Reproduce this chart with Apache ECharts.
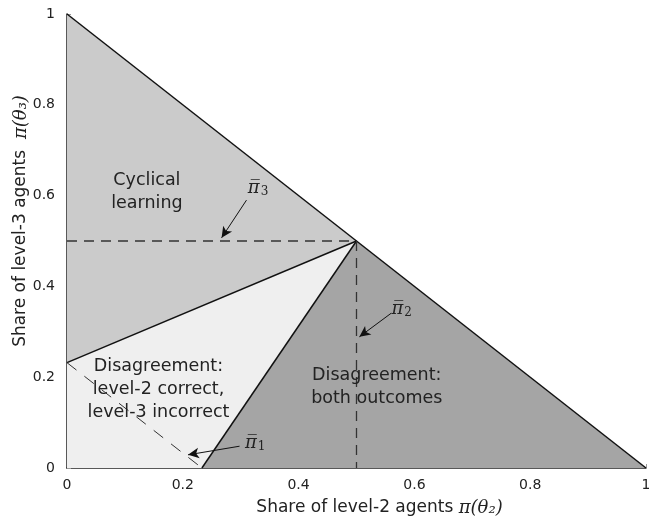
<!DOCTYPE html>
<html>
<head>
<meta charset="utf-8">
<script src="https://cdn.jsdelivr.net/npm/echarts@6/dist/echarts.min.js"></script>
<style>
  html, body { margin: 0; padding: 0; background: #fff; }
  #chart { width: 649px; height: 523px; }
</style>
</head>
<body>
<div id="chart"></div>
<script>
  // region corners (x = share level-2, y = share level-3)
  const cyclicalRegion = [[0, 1], [0.5, 0.5], [0, 0.232]]
  const level2Region = [[0, 0], [0, 0.232], [0.5, 0.5], [0.233, 0]]
  const bothRegion = [[0.233, 0], [0.5, 0.5], [1, 0]]

  // boundaries
  const simplexEdge = [[0, 1], [1, 0]]
  const upperBoundary = [[0, 0.232], [0.5, 0.5]]
  const lowerBoundary = [[0.233, 0], [0.5, 0.5]]

  // thresholds (dashed)
  const pi3Line = [[0, 0.5], [0.5, 0.5]]
  const pi2Line = [[0.5, 0.5], [0.5, 0]]
  const pi1Line = [[0, 0.232], [0.233, 0]]

  // arrows: [from, to]
  const arrowPi3 = [[0.31, 0.59], [0.267, 0.507]]
  const arrowPi2 = [[0.56, 0.341], [0.505, 0.289]]
  const arrowPi1 = [[0.298, 0.048], [0.209, 0.029]]

  const regionTexts = ['Cyclical\nlearning', 'Disagreement:\nlevel-2 correct,\nlevel-3 incorrect', 'Disagreement:\nboth outcomes']
  const regionTextAt = [[0.138, 0.607], [0.158, 0.172], [0.535, 0.178]]
  const symbolTexts = ['{p|π̅}{s|3}', '{p|π̅}{s|2}', '{p|π̅}{s|1}']
  const symbolTextAt = [[0.33, 0.617], [0.578, 0.35], [0.325, 0.055]]

  const tickValues = [0, 0.2, 0.4, 0.6, 0.8, 1]

  const chart = echarts.init(document.getElementById('chart'))

  function regionSeries (pts, color) {
    return {
      type: 'custom',
      z: 1,
      silent: true,
      data: pts,
      renderItem: (params, api) => {
        if (params.dataIndex !== 0) return
        return {
          type: 'polygon',
          shape: { points: pts.map(p => api.coord(p)) },
          style: { fill: color, stroke: null }
        }
      }
    }
  }

  function lineSeries (pts, type, width, color) {
    return {
      type: 'line',
      z: 3,
      data: pts,
      symbol: 'none',
      silent: true,
      lineStyle: { color, width, type }
    }
  }

  function arrowSeries (pts) {
    return {
      type: 'line',
      z: 4,
      data: [],
      markLine: {
        silent: true,
        symbol: ['none', 'arrow'],
        symbolSize: [8, 11],
        label: { show: false },
        lineStyle: { color: '#111', width: 1, type: 'solid' },
        data: [[{ coord: pts[0] }, { coord: pts[1] }]]
      }
    }
  }

  function textSeries (texts, coords, style) {
    return {
      type: 'custom',
      z: 5,
      silent: true,
      data: coords,
      renderItem: (params, api) => {
        const c = api.coord([api.value(0), api.value(1)])
        return {
          type: 'text',
          x: c[0], y: c[1],
          style: Object.assign({
            text: texts[params.dataIndex],
            align: 'center',
            verticalAlign: 'middle'
          }, style)
        }
      }
    }
  }

  const axisCommon = {
    type: 'value',
    min: 0, max: 1, interval: 0.2,
    axisLine: { show: true, lineStyle: { color: '#222', width: 1.5 } },
    axisTick: { show: true, inside: true, length: 4, lineStyle: { color: '#999' } },
    splitLine: { show: false },
    axisLabel: { color: '#222', fontSize: 14, fontFamily: 'DejaVu Sans',
      formatter: v => tickValues.includes(+v.toFixed(1)) ? String(+v.toFixed(1)) : '' }
  }

  const nameRich = {
    t: { fontSize: 17, fontFamily: 'DejaVu Sans', color: '#222' },
    m: { fontSize: 18, fontFamily: 'DejaVu Serif', fontStyle: 'italic', color: '#222' }
  }

  chart.setOption({
    backgroundColor: '#fff',
    animation: false,
    grid: { left: 67, right: 3, top: 14, bottom: 55, outerBoundsMode: 'none', containLabel: false },
    xAxis: Object.assign({}, axisCommon, {
      name: '{t|Share of level-2 agents }{m|π(θ₂)}',
      nameLocation: 'middle',
      nameGap: 31,
      nameMoveOverlap: false,
      nameTextStyle: { padding: [0, 0, 0, 46], rich: nameRich },
      axisLabel: Object.assign({}, axisCommon.axisLabel, { margin: 10 })
    }),
    yAxis: Object.assign({}, axisCommon, {
      name: '{t|Share of level-3 agents  }{m|π(θ₃)}',
      nameLocation: 'middle',
      nameGap: 37,
      nameMoveOverlap: false,
      nameTextStyle: { padding: [0, 0, 0, 40], rich: nameRich },
      axisLabel: Object.assign({}, axisCommon.axisLabel, { margin: 12 })
    }),
    series: [
      regionSeries(cyclicalRegion, '#cbcbcb'),
      regionSeries(level2Region, '#efefef'),
      regionSeries(bothRegion, '#a5a5a5'),
      lineSeries(simplexEdge, 'solid', 1.5, '#111'),
      lineSeries(upperBoundary, 'solid', 1.5, '#111'),
      lineSeries(lowerBoundary, 'solid', 1.5, '#111'),
      lineSeries(pi3Line, [10, 7], 1.3, '#333'),
      lineSeries(pi2Line, [10, 7], 1.3, '#333'),
      lineSeries(pi1Line, [12, 10], 1, '#333'),
      arrowSeries(arrowPi3),
      arrowSeries(arrowPi2),
      arrowSeries(arrowPi1),
      textSeries(regionTexts, regionTextAt, { fontSize: 17.5, fontFamily: 'DejaVu Sans', fill: '#222', lineHeight: 23 }),
      textSeries(symbolTexts, symbolTextAt, {
        rich: {
          p: { fontSize: 18, fontFamily: 'DejaVu Serif', fontStyle: 'italic', fill: '#222' },
          s: { fontSize: 12, fontFamily: 'DejaVu Serif', fill: '#222', padding: [8, 0, 0, 1] }
        }
      })
    ]
  })
</script>
</body>
</html>
